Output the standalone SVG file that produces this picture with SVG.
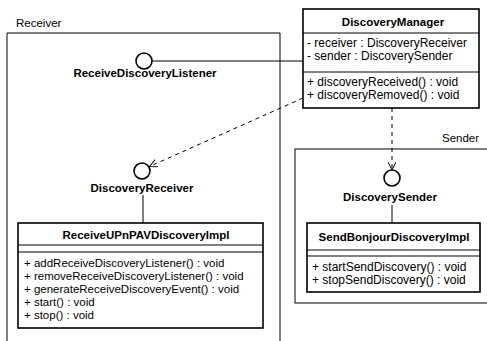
<svg xmlns="http://www.w3.org/2000/svg" width="487" height="341" viewBox="0 0 487 341">
  <style>
    text { font-family: "Liberation Sans", Arial, sans-serif; fill: #000; }
    .pkg { fill: #fff; stroke: #000; stroke-width: 1; }
    .pkglabel { font-size: 11.5px; }
    .box { fill: #fff; stroke: #000; stroke-width: 1.6; }
    .div { stroke: #000; stroke-width: 1; }
    .title { font-size: 11.5px; font-weight: bold; text-anchor: middle; }
    .iflabel { font-size: 11.5px; font-weight: bold; text-anchor: middle; }
    .mem { font-size: 11.5px; }
    .mem12 { font-size: 12px; }
    .iface { fill: #fff; stroke: #000; stroke-width: 1.6; }
    .solid { stroke: #000; stroke-width: 1; fill: none; }
    .dash { stroke: #000; stroke-width: 1; fill: none; stroke-dasharray: 4 4; }
  </style>
  <defs>
    <marker id="open" markerWidth="10" markerHeight="10" refX="8" refY="4" orient="auto" markerUnits="userSpaceOnUse">
      <path d="M0,0 L8,4 L0,8" fill="none" stroke="#000" stroke-width="1"/>
    </marker>
  </defs>
  <rect width="487" height="341" fill="#fff"/>

  <g id="pkg-receiver">
    <text class="pkglabel" x="16" y="27">Receiver</text>
    <path class="pkg" d="M7,345 L7,33 L280,33 L280,345"/>
  </g>

  <g id="pkg-sender">
    <text class="pkglabel" x="442" y="142">Sender</text>
    <rect class="pkg" x="295" y="149" width="200" height="154"/>
  </g>

  <g id="connectors">
    <line class="solid" x1="152" y1="61" x2="303" y2="61"/>
    <line class="solid" x1="143" y1="195" x2="143" y2="223"/>
    <line class="solid" x1="392" y1="205" x2="392" y2="223"/>
    <line class="dash" x1="303" y1="98" x2="149.5" y2="166.5" marker-end="url(#open)"/>
    <line class="dash" x1="392" y1="108" x2="392" y2="170" marker-end="url(#open)"/>
  </g>

  <g id="ReceiveDiscoveryListener">
    <circle class="iface" cx="144" cy="61" r="8"/>
    <text class="iflabel" x="145" y="77">ReceiveDiscoveryListener</text>
  </g>

  <g id="DiscoveryReceiver">
    <circle class="iface" cx="142" cy="171" r="8"/>
    <text class="iflabel" x="142" y="192">DiscoveryReceiver</text>
  </g>

  <g id="DiscoverySender">
    <circle class="iface" cx="392" cy="178" r="8"/>
    <text class="iflabel" x="390" y="201">DiscoverySender</text>
  </g>

  <g id="DiscoveryManager">
    <rect class="box" x="303" y="9" width="176" height="99"/>
    <text class="title" x="393" y="26">DiscoveryManager</text>
    <line class="div" x1="303" y1="33" x2="479" y2="33"/>
    <text class="mem12" x="307" y="47">- receiver : DiscoveryReceiver</text>
    <text class="mem12" x="307" y="60">- sender : DiscoverySender</text>
    <line class="div" x1="303" y1="72" x2="479" y2="72"/>
    <text class="mem12" x="307" y="86">+ discoveryReceived() : void</text>
    <text class="mem12" x="307" y="99">+ discoveryRemoved() : void</text>
  </g>

  <g id="ReceiveUPnPAVDiscoveryImpl">
    <rect class="box" x="18" y="223" width="245" height="105"/>
    <text class="title" x="146" y="239">ReceiveUPnPAVDiscoveryImpl</text>
    <line class="div" x1="18" y1="245" x2="263" y2="245"/>
    <line class="div" x1="18" y1="252" x2="263" y2="252"/>
    <text class="mem" x="24" y="267">+ addReceiveDiscoveryListener() : void</text>
    <text class="mem" x="24" y="280">+ removeReceiveDiscoveryListener() : void</text>
    <text class="mem" x="24" y="293">+ generateReceiveDiscoveryEvent() : void</text>
    <text class="mem" x="24" y="306">+ start() : void</text>
    <text class="mem" x="24" y="319">+ stop() : void</text>
  </g>

  <g id="SendBonjourDiscoveryImpl">
    <rect class="box" x="307" y="223" width="173" height="69"/>
    <text class="title" x="394" y="241">SendBonjourDiscoveryImpl</text>
    <line class="div" x1="307" y1="250" x2="480" y2="250"/>
    <line class="div" x1="307" y1="256" x2="480" y2="256"/>
    <text class="mem12" x="312" y="271">+ startSendDiscovery() : void</text>
    <text class="mem12" x="312" y="284">+ stopSendDiscovery() : void</text>
  </g>
</svg>
